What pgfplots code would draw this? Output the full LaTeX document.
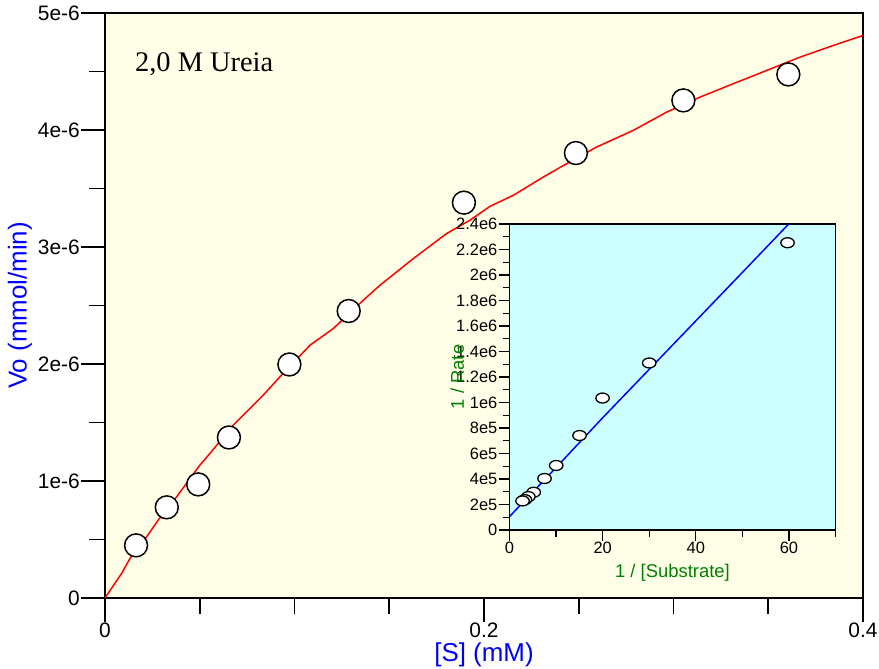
\documentclass[border=0pt]{standalone}
\usepackage{pgfplots}
\pgfplotsset{compat=1.18}
\usepackage{fontspec}
\setmainfont{Liberation Sans}
\newfontfamily\timesfont{Liberation Serif}
\definecolor{mainbg}{RGB}{255,255,232}
\definecolor{insetbg}{RGB}{204,255,255}
\definecolor{labgreen}{RGB}{0,128,0}
\begin{document}
\begin{tikzpicture}
\useasboundingbox (0bp,0bp) rectangle (879bp,669bp);
\begin{axis}[
  at={(105bp,71bp)}, anchor=south west,
  scale only axis, width=758bp, height=585bp,
  xmin=0, xmax=0.4, ymin=0, ymax=5e-6,
  axis background/.style={fill=mainbg},
  axis line style={line width=1.5pt},
  tick align=outside, tick pos=left,
  xtick={0,0.2,0.4}, xticklabels={0,0.2,0.4},
  minor xtick={0.05,0.1,0.15,0.25,0.3,0.35},
  ytick={0,1e-6,2e-6,3e-6,4e-6,5e-6},
  yticklabels={0,1e-6,2e-6,3e-6,4e-6,5e-6},
  minor ytick={0.5e-6,1.5e-6,2.5e-6,3.5e-6,4.5e-6},
  scaled y ticks=false, scaled x ticks=false,
  major tick length=24bp, minor tick length=16bp,
  xtick style={black, line width=1.6pt},
  ytick style={black, line width=1.6pt},
  /pgf/number format/assume math mode=true,
  ticklabel style={font=\fontsize{21}{25}\selectfont, inner sep=1pt},
  xlabel={[S] (mM)}, ylabel={Vo (mmol/min)},
  label style={font=\fontsize{26}{30}\selectfont, text=blue},
  xlabel style={at={(axis description cs:0.5,-0.0974)}, anchor=center},
  ylabel style={at={(axis description cs:-0.1121,0.5)}, anchor=center},
  clip=true,
]
\addplot[red, line width=1.5pt] coordinates {
(0,0) (0.0088,0.211e-6) (0.0132,0.339e-6) (0.0220,0.524e-6) (0.0281,0.666e-6)
(0.0378,0.865e-6) (0.0501,1.136e-6) (0.0554,1.236e-6) (0.0677,1.478e-6)
(0.0835,1.734e-6) (0.0923,1.890e-6) (0.1082,2.161e-6) (0.1205,2.303e-6)
(0.1363,2.545e-6) (0.1451,2.673e-6) (0.1627,2.901e-6) (0.1803,3.115e-6)
(0.1926,3.229e-6) (0.2032,3.348e-6) (0.2155,3.442e-6) (0.2313,3.598e-6)
(0.2437,3.713e-6) (0.2595,3.855e-6) (0.2788,3.997e-6) (0.2964,4.153e-6)
(0.3140,4.281e-6) (0.3316,4.396e-6) (0.3492,4.509e-6) (0.3668,4.623e-6)
(0.3844,4.723e-6) (0.4,4.808e-6)};
\addplot[only marks, mark=*, mark size=11.5pt, mark options={fill=white, draw=black, line width=1.5pt}] coordinates {
(0.0164,0.450e-6) (0.0326,0.775e-6) (0.0492,0.971e-6) (0.0654,1.372e-6)
(0.0973,1.996e-6) (0.1286,2.453e-6) (0.1894,3.379e-6) (0.2485,3.803e-6)
(0.3052,4.253e-6) (0.3606,4.475e-6)};
\end{axis}
\node[anchor=base west, font=\timesfont\fontsize{28.5}{34}\selectfont, inner sep=0pt] at (135bp,597bp) {2,0 M Ureia};
\begin{axis}[
  at={(509.5bp,139bp)}, anchor=south west,
  scale only axis, width=326bp, height=306bp,
  xmin=0, xmax=70, ymin=0, ymax=2.4e6,
  axis background/.style={fill=insetbg},
  axis line style={line width=1.5pt},
  tick align=outside, tick pos=left,
  xtick={0,20,40,60}, minor xtick={10,30,50,70},
  ytick={0,2e5,4e5,6e5,8e5,1e6,1.2e6,1.4e6,1.6e6,1.8e6,2e6,2.2e6,2.4e6},
  yticklabels={0,2e5,4e5,6e5,8e5,1e6,1.2e6,1.4e6,1.6e6,1.8e6,2e6,2.2e6,2.4e6},
  minor ytick={1e5,3e5,5e5,7e5,9e5,1.1e6,1.3e6,1.5e6,1.7e6,1.9e6,2.1e6,2.3e6},
  scaled y ticks=false, scaled x ticks=false,
  major tick length=11bp, minor tick length=7bp,
  xtick style={black, line width=1.4pt},
  ytick style={black, line width=1.4pt},
  /pgf/number format/assume math mode=true,
  ticklabel style={font=\fontsize{16.5}{19}\selectfont, inner sep=1pt},
  xlabel={1 / [Substrate]}, ylabel={1 / Rate},
  label style={font=\fontsize{18.5}{22}\selectfont, text=labgreen},
  xlabel style={at={(axis description cs:0.5,-0.1405)}, anchor=center},
  ylabel style={at={(axis description cs:-0.16,0.5)}, anchor=center},
  clip=true,
]
\addplot[blue, line width=1.5pt] coordinates {
(0,1.05e5) (10,4.9e5) (20,8.8e5) (30,1.26e6) (40,1.64e6) (50,2.02e6) (59.95,2.4e6)};
\addplot[only marks, mark=*, mark size=5pt, mark options={xscale=1.35, fill=white, draw=black, line width=1.3pt}] coordinates {
(59.7,2.253e6) (30.0,1.310e6) (19.98,1.035e6) (15.04,0.741e6) (10.03,0.506e6)
(7.52,0.404e6) (5.2,0.296e6) (4.05,0.262e6) (3.3,0.238e6) (2.8,0.228e6)};
\end{axis}
\end{tikzpicture}
\end{document}
